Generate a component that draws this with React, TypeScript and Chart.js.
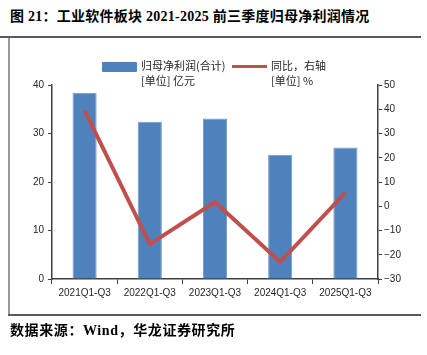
import React, { useEffect, useRef } from 'react';
import { Chart, registerables } from 'chart.js';

Chart.register(...registerables);

const categories = ['2021Q1-Q3', '2022Q1-Q3', '2023Q1-Q3', '2024Q1-Q3', '2025Q1-Q3'];
const netProfit = [38.4, 32.4, 33.1, 25.6, 27.1];
const yoyGrowth = [39.5, -15.6, 1.7, -23.0, 5.6];
const leftAxis = { min: 0, max: 40, step: 10 };
const rightAxis = { min: -30, max: 50, step: 10 };

const BLUE = '#4F81BD';
const RED = '#C0504D';
const AXIS = '#404040';
const TEXT = '#262626';

const cjk = '"Noto Sans CJK SC", sans-serif';
const titleFont = '"Liberation Serif", "Noto Sans CJK SC", serif';

export default function App() {
  const ref = useRef<HTMLCanvasElement | null>(null);

  useEffect(() => {
    if (!ref.current) return;
    const tickFont = { family: '"Liberation Sans", Arial, sans-serif', size: 10 };
    const chart = new Chart(ref.current, {
      type: 'bar',
      data: {
        labels: categories,
        datasets: [
          {
            type: 'line',
            label: '同比，右轴',
            data: yoyGrowth,
            yAxisID: 'y1',
            borderColor: RED,
            backgroundColor: RED,
            borderWidth: 4,
            pointRadius: 0,
            tension: 0,
            order: 0,
          } as any,
          {
            type: 'bar',
            label: '归母净利润(合计)',
            data: netProfit,
            yAxisID: 'y',
            backgroundColor: BLUE,
            borderColor: '#6F9AD0',
            borderWidth: 1,
            barPercentage: 0.37,
            categoryPercentage: 1,
            order: 1,
          },
        ],
      },
      options: {
        animation: false,
        responsive: false,
        maintainAspectRatio: false,
        layout: { padding: { top: 85, bottom: 46, left: 0, right: 0 } },
        plugins: { legend: { display: false }, tooltip: { enabled: false } },
        scales: {
          x: {
            border: { display: true, color: AXIS, width: 1.5 },
            grid: { display: true, drawOnChartArea: false, drawTicks: true, tickLength: 5, color: AXIS, offset: true },
            ticks: { color: TEXT, font: tickFont, padding: 3, maxRotation: 0, autoSkip: false },
            afterFit: (s: any) => { s.height = 30; },
          },
          y: {
            position: 'left',
            min: leftAxis.min,
            max: leftAxis.max,
            border: { display: true, color: AXIS, width: 1.5 },
            grid: { display: true, drawOnChartArea: false, drawTicks: true, tickLength: 4, color: AXIS },
            ticks: { stepSize: leftAxis.step, color: TEXT, font: tickFont, padding: 4 },
            afterFit: (s: any) => { s.width = 52; },
          },
          y1: {
            position: 'right',
            min: rightAxis.min,
            max: rightAxis.max,
            border: { display: true, color: AXIS, width: 1.5 },
            grid: { display: true, drawOnChartArea: false, drawTicks: true, tickLength: 4, color: AXIS },
            ticks: {
              stepSize: rightAxis.step,
              color: TEXT,
              font: tickFont,
              padding: 2,
              callback: (v: any) => String(v).replace('-', '\u2212'),
            },
            afterFit: (s: any) => { s.width = 49; },
          },
        },
      },
    });
    return () => chart.destroy();
  }, []);

  const abs = (o: React.CSSProperties): React.CSSProperties => ({ position: 'absolute', ...o });

  return (
    <div style={{ position: 'absolute', left: 0, top: 0, width: 427, height: 355, background: '#fff', overflow: 'hidden' }}>
      <div style={abs({ left: 10, top: 7, fontFamily: titleFont, fontWeight: 'bold', fontSize: 14, letterSpacing: 0.25, color: '#000', whiteSpace: 'nowrap', lineHeight: '20px' })}>
        图 21：工业软件板块 2021-2025 前三季度归母净利润情况
      </div>
      <div style={abs({ left: 0, top: 36, width: 421, height: 2, background: '#5a5a5a' })} />
      <div style={abs({ left: 8, top: 38, width: 2, height: 277, background: '#9a9a9a' })} />
      <div style={abs({ left: 8, top: 314, width: 413, height: 2, background: '#5a5a5a' })} />
      <canvas ref={ref} width={427} height={355} style={abs({ left: 0, top: 0, width: 427, height: 355 })} />
      <div style={abs({ left: 102, top: 62, width: 35, height: 10, background: BLUE, borderRadius: 1 })} />
      <div style={abs({ left: 141, top: 58, fontFamily: cjk, fontSize: 11, color: TEXT, whiteSpace: 'nowrap', lineHeight: '15px' })}>
        归母净利润(合计)
      </div>
      <div style={abs({ left: 141, top: 73, fontFamily: cjk, fontSize: 11, color: TEXT, whiteSpace: 'nowrap', lineHeight: '15px' })}>
        [单位] 亿元
      </div>
      <div style={abs({ left: 232, top: 65, width: 35, height: 3, background: RED })} />
      <div style={abs({ left: 271, top: 58, fontFamily: cjk, fontSize: 11, color: TEXT, whiteSpace: 'nowrap', lineHeight: '15px' })}>
        同比，右轴
      </div>
      <div style={abs({ left: 271, top: 73, fontFamily: cjk, fontSize: 11, color: TEXT, whiteSpace: 'nowrap', lineHeight: '15px' })}>
        [单位] %
      </div>
      <div style={abs({ left: 10, top: 321, fontFamily: titleFont, fontWeight: 'bold', fontSize: 14, letterSpacing: 0.6, color: '#000', whiteSpace: 'nowrap', lineHeight: '20px' })}>
        数据来源：Wind，华龙证券研究所
      </div>
    </div>
  );
}
